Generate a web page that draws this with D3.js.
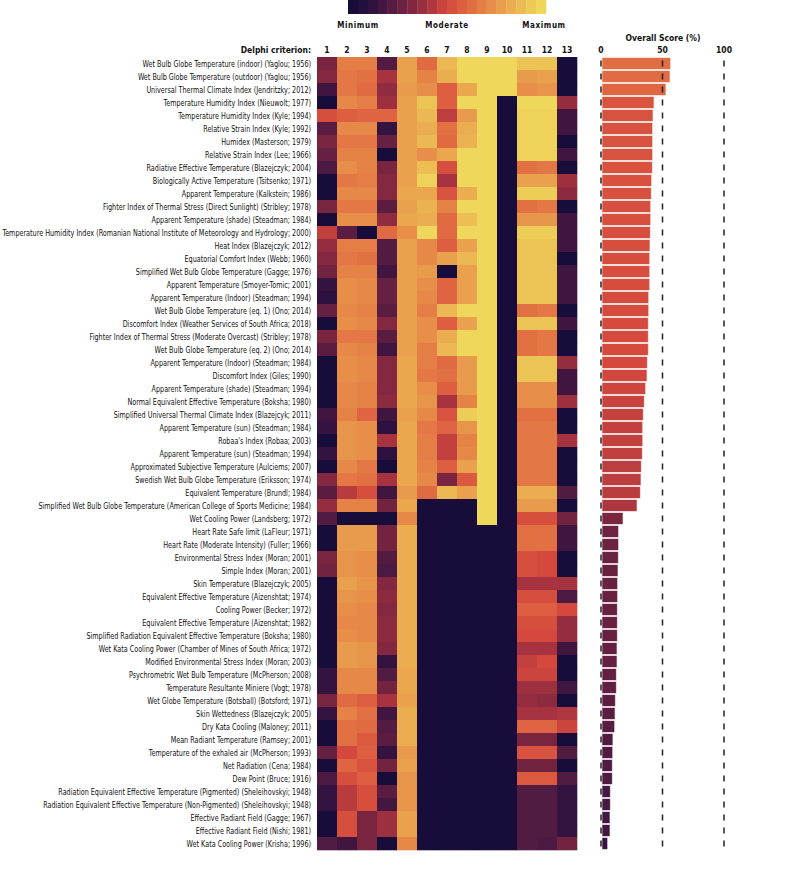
<!DOCTYPE html>
<html>
<head>
<meta charset="utf-8">
<script src="https://cdn.jsdelivr.net/npm/d3@7"></script>
<style>
  body { margin: 0; background: #fff; }
  text { font-family: "Liberation Sans Narrow", "DejaVu Sans Condensed", sans-serif; fill: #111; }
  .bold { font-weight: bold; }
</style>
</head>
<body>
<svg id="chart" width="800" height="880"></svg>
<script>
var criteria = [1,2,3,4,5,6,7,8,9,10,11,12,13];

var indices = [
  "Wet Bulb Globe Temperature (indoor) (Yaglou; 1956)",
  "Wet Bulb Globe Temperature (outdoor) (Yaglou; 1956)",
  "Universal Thermal Climate Index (Jendritzky; 2012)",
  "Temperature Humidity Index (Nieuwolt; 1977)",
  "Temperature Humidity Index (Kyle; 1994)",
  "Relative Strain Index (Kyle; 1992)",
  "Humidex (Masterson; 1979)",
  "Relative Strain Index (Lee; 1966)",
  "Radiative Effective Temperature (Blazejczyk; 2004)",
  "Biologically Active Temperature (Tsitsenko; 1971)",
  "Apparent Temperature (Kalkstein; 1986)",
  "Fighter Index of Thermal Stress (Direct Sunlight) (Stribley; 1978)",
  "Apparent Temperature (shade) (Steadman; 1984)",
  "Temperature Humidity Index (Romanian National Institute of Meteorology and Hydrology; 2000)",
  "Heat Index (Blazejczyk; 2012)",
  "Equatorial Comfort Index (Webb; 1960)",
  "Simplified Wet Bulb Globe Temperature (Gagge; 1976)",
  "Apparent Temperature (Smoyer-Tomic; 2001)",
  "Apparent Temperature (Indoor) (Steadman; 1994)",
  "Wet Bulb Globe Temperature (eq. 1) (Ono; 2014)",
  "Discomfort Index (Weather Services of South Africa; 2018)",
  "Fighter Index of Thermal Stress (Moderate Overcast) (Stribley; 1978)",
  "Wet Bulb Globe Temperature (eq. 2) (Ono; 2014)",
  "Apparent Temperature (Indoor) (Steadman; 1984)",
  "Discomfort Index (Giles; 1990)",
  "Apparent Temperature (shade) (Steadman; 1994)",
  "Normal Equivalent Effective Temperature (Boksha; 1980)",
  "Simplified Universal Thermal Climate Index (Blazejcyk; 2011)",
  "Apparent Temperature (sun) (Steadman; 1984)",
  "Robaa's Index (Robaa; 2003)",
  "Apparent Temperature (sun) (Steadman; 1994)",
  "Approximated Subjective Temperature (Aulciems; 2007)",
  "Swedish Wet Bulb Globe Temperature (Eriksson; 1974)",
  "Equivalent Temperature (Brundl; 1984)",
  "Simplified Wet Bulb Globe Temperature (American College of Sports Medicine; 1984)",
  "Wet Cooling Power (Landsberg; 1972)",
  "Heart Rate Safe limit (LaFleur; 1971)",
  "Heart Rate (Moderate Intensity) (Fuller; 1966)",
  "Environmental Stress Index (Moran; 2001)",
  "Simple Index (Moran; 2001)",
  "Skin Temperature (Blazejczyk; 2005)",
  "Equivalent Effective Temperature (Aizenshtat; 1974)",
  "Cooling Power (Becker; 1972)",
  "Equivalent Effective Temperature (Aizenshtat; 1982)",
  "Simplified Radiation Equivalent Effective Temperature (Boksha; 1980)",
  "Wet Kata Cooling Power (Chamber of Mines of South Africa; 1972)",
  "Modified Environmental Stress Index (Moran; 2003)",
  "Psychrometric Wet Bulb Temperature (McPherson; 2008)",
  "Temperature Resultante Miniere (Vogt; 1978)",
  "Wet Globe Temperature (Botsball) (Botsford; 1971)",
  "Skin Wettedness (Blazejczyk; 2005)",
  "Dry Kata Cooling (Maloney; 2011)",
  "Mean Radiant Temperature (Ramsey; 2001)",
  "Temperature of the exhaled air (McPherson; 1993)",
  "Net Radiation (Cena; 1984)",
  "Dew Point (Bruce; 1916)",
  "Radiation Equivalent Effective Temperature (Pigmented) (Sheleihovskyi; 1948)",
  "Radiation Equivalent Effective Temperature (Non-Pigmented) (Sheleihovskyi; 1948)",
  "Effective Radiant Field (Gagge; 1967)",
  "Effective Radiant Field (Nishi; 1981)",
  "Wet Kata Cooling Power (Krisha; 1996)"
];

// overall score (%) per index
var scores = [
  55.8, 55.3, 52.0, 42.3, 41.5, 41.2, 41.2, 41.2, 41.0, 40.4,
  40.1, 39.6, 39.6, 39.3, 39.0, 38.8, 38.8, 38.8, 38.0, 38.0,
  37.7, 37.7, 37.7, 36.9, 36.6, 35.5, 34.4, 33.6, 33.1, 33.1,
  32.8, 32.0, 31.7, 31.2, 28.5, 17.1, 13.5, 13.5, 13.3, 13.0,
  12.7, 12.7, 12.5, 12.5, 12.5, 12.2, 12.2, 11.7, 11.7, 10.9,
  10.6, 10.3, 8.9, 8.7, 8.4, 8.4, 6.8, 6.8, 6.5, 6.5, 4.6
];

// rating per criterion, 0 = minimum, 0.5 = moderate, 1 = maximum
var ratings = [
  [0.30,0.68,0.68,0.20,0.80,0.62,0.88,1,1,1,0.92,0.92,0],
  [0.32,0.66,0.64,0.40,0.80,0.70,0.84,1,1,1,0.78,0.80,0],
  [0.15,0.66,0.62,0.35,0.78,0.74,0.58,0.82,1,1,0.74,0.76,0],
  [0,0.72,0.68,0.38,0.80,0.92,0.58,1,1,0,1,1,0.36],
  [0.52,0.58,0.60,0.60,0.80,0.88,0.45,0.78,1,0,0.98,0.98,0.15],
  [0.22,0.72,0.72,0.12,0.80,0.84,0.64,0.84,1,0,0.98,0.98,0.15],
  [0.30,0.66,0.66,0.25,0.80,0.88,0.62,0.86,1,0,0.98,0.98,0],
  [0.25,0.70,0.70,0,0.80,0.74,0.82,1,1,0,0.98,0.98,0.15],
  [0.18,0.74,0.70,0.30,0.80,0.90,0.52,1,1,0,0.64,0.66,0],
  [0,0.66,0.68,0.32,0.80,0.98,0.40,1,1,0,0.80,0.80,0.38],
  [0,0.72,0.72,0.32,0.82,0.82,0.54,0.84,1,0,0.95,0.95,0.34],
  [0.30,0.66,0.66,0.22,0.80,0.86,0.70,1,1,0,0.64,0.66,0],
  [0,0.74,0.74,0.35,0.82,0.84,0.62,0.90,1,0,0.76,0.76,0.15],
  [0.46,0.22,0,0.62,0.74,1,0.62,1,1,0,0.96,0.96,0.15],
  [0.36,0.68,0.68,0.20,0.80,0.72,0.58,0.80,1,0,0.92,0.92,0.15],
  [0.32,0.66,0.64,0.20,0.80,0.72,0.80,0.88,1,0,0.92,0.92,0],
  [0.28,0.70,0.70,0.15,0.80,0.78,0,0.80,1,0,0.92,0.92,0.15],
  [0.12,0.74,0.72,0.25,0.80,0.74,0.60,0.80,1,0,0.92,0.92,0.15],
  [0.10,0.74,0.72,0.25,0.80,0.72,0.60,0.80,1,0,0.92,0.92,0.15],
  [0.25,0.72,0.70,0.22,0.80,0.68,0.88,1,1,0,0.64,0.66,0],
  [0,0.74,0.72,0.32,0.80,0.74,0.58,0.80,1,0,0.92,0.92,0.15],
  [0.30,0.66,0.66,0.22,0.80,0.74,0.84,1,1,0,0.64,0.66,0],
  [0.22,0.72,0.70,0.15,0.80,0.68,0.88,1,1,0,0.64,0.66,0],
  [0,0.74,0.72,0.32,0.82,0.68,0.62,0.78,1,0,0.92,0.92,0.36],
  [0,0.74,0.72,0.32,0.82,0.66,0.64,0.78,1,0,0.92,0.92,0.15],
  [0,0.72,0.70,0.32,0.82,0.74,0.58,0.78,1,0,0.74,0.74,0.15],
  [0,0.72,0.70,0.34,0.82,0.76,0.40,0.70,1,0,0.74,0.74,0.38],
  [0.15,0.70,0.60,0.15,0.80,0.72,0.54,0.96,1,0,0.64,0.64,0],
  [0.12,0.76,0.74,0.10,0.82,0.66,0.60,0.76,1,0,0.66,0.66,0],
  [0,0.76,0.74,0.40,0.82,0.68,0.46,0.70,1,0,0.66,0.66,0.40],
  [0.12,0.76,0.74,0.10,0.82,0.68,0.46,0.72,1,0,0.66,0.66,0],
  [0,0.72,0.66,0,0.82,0.70,0.58,0.80,1,0,0.66,0.66,0],
  [0.32,0.66,0.64,0.40,0.82,0.72,0.30,0.56,1,0,0.66,0.66,0],
  [0.22,0.44,0.52,0.15,0.78,0.62,0.88,0.80,1,0,0.84,0.84,0.20],
  [0.36,0.70,0.70,0.28,0.82,0,0,0,1,0,0.78,0.78,0],
  [0.20,0,0,0,0.72,0,0,0,1,0,0.52,0.52,0.28],
  [0,0.78,0.78,0.28,0.84,0,0,0,0,0,0.64,0.64,0.15],
  [0,0.78,0.78,0.28,0.84,0,0,0,0,0,0.64,0.64,0.15],
  [0.30,0.76,0.74,0.20,0.84,0,0,0,0,0,0.52,0.50,0],
  [0.28,0.76,0.74,0.18,0.84,0,0,0,0,0,0.52,0.50,0],
  [0,0.80,0.76,0.32,0.84,0,0,0,0,0,0.40,0.40,0.40],
  [0,0.76,0.74,0.34,0.84,0,0,0,0,0,0.52,0.52,0.18],
  [0,0.74,0.72,0.32,0.84,0,0,0,0,0,0.58,0.58,0.50],
  [0,0.72,0.72,0.34,0.84,0,0,0,0,0,0.52,0.52,0.36],
  [0,0.74,0.72,0.34,0.84,0,0,0,0,0,0.50,0.50,0.36],
  [0,0.78,0.76,0.32,0.84,0,0,0,0,0,0.40,0.40,0.15],
  [0,0.78,0.76,0.12,0.84,0,0,0,0,0,0.46,0.50,0],
  [0.12,0.72,0.72,0.20,0.82,0,0,0,0,0,0.48,0.48,0],
  [0.12,0.72,0.72,0.28,0.82,0,0,0,0,0,0.38,0.38,0.15],
  [0.30,0.62,0.58,0.40,0.80,0,0,0,0,0,0.36,0.34,0],
  [0.12,0.70,0.64,0.15,0.84,0,0,0,0,0,0.40,0.40,0.42],
  [0,0.64,0.62,0.20,0.84,0,0,0,0,0,0.60,0.60,0.48],
  [0,0.64,0.56,0.22,0.84,0,0,0,0,0,0.30,0.30,0],
  [0.25,0.50,0.58,0.12,0.78,0,0,0,0,0,0.54,0.54,0.20],
  [0,0.60,0.54,0.28,0.80,0,0,0,0,0,0.28,0.28,0],
  [0.18,0.52,0.58,0,0.76,0,0,0,0,0,0.56,0.56,0.20],
  [0.12,0.44,0.52,0.22,0.76,0,0,0,0,0,0.20,0.20,0.12],
  [0.12,0.44,0.52,0.16,0.76,0,0,0,0,0,0.20,0.20,0.12],
  [0,0.52,0.30,0.38,0.80,0,0,0,0,0,0.20,0.20,0.12],
  [0,0.52,0.30,0.38,0.80,0,0,0,0,0,0.20,0.20,0.12],
  [0.20,0.15,0.30,0,0.72,0,0,0,0,0,0.20,0.18,0.28]
];

var scoreTicks = [0, 50, 100];
var legendLabels = ["Minimum", "Moderate", "Maximum"];

var stops = ["#170c3a","#2e1141","#521b41","#7a2540","#a6333f","#d4483d",
             "#df6441","#e58347","#e9a14d","#ecbe54","#eed75a"];

var color = d3.scaleLinear()
  .domain(d3.range(stops.length).map(function(i){ return i / (stops.length - 1) }))
  .range(stops)
  .interpolate(d3.interpolateRgb);

// bar colour follows the score on the same ramp
var barT = d3.scaleLinear().domain([0, 13, 40, 56]).range([0.06, 0.26, 0.53, 0.63]);

var svg = d3.select("#chart");

var x = d3.scaleBand().domain(criteria).range([317, 577]);
var y = d3.scaleBand().domain(d3.range(indices.length)).range([57, 57 + indices.length * 13]);
var sx = d3.scaleLinear().domain([0, 100]).range([601, 724]);

// legend
var nSteps = 20;
var lx = d3.scaleLinear().domain([0, nSteps]).range([348, 546]);
svg.append("g").selectAll("rect")
   .data(d3.range(nSteps))
   .enter()
   .append("rect")
   .attr("x", function(d){ return lx(d) })
   .attr("y", 0)
   .attr("width", lx(1) - lx(0) + 0.3)
   .attr("height", 14)
   .style("fill", function(d){ return color(d / (nSteps - 1)) });

svg.append("g").selectAll("text")
   .data(legendLabels)
   .enter()
   .append("text")
   .attr("class", "bold")
   .attr("x", function(d,i){ return lx(i * nSteps / 2) + (i == 0 ? 10 : i == 2 ? -2 : 0) })
   .attr("y", 28)
   .attr("text-anchor", "middle")
   .style("font-size", "8px")
   .style("letter-spacing", "0.6px")
   .text(function(d){ return d });

// header
svg.append("text")
   .attr("class", "bold")
   .attr("x", 311).attr("y", 53)
   .attr("text-anchor", "end")
   .style("font-size", "8.5px")
   .text("Delphi criterion:");

svg.append("g").selectAll("text")
   .data(criteria)
   .enter()
   .append("text")
   .attr("class", "bold")
   .attr("x", function(d){ return x(d) + x.bandwidth() / 2 })
   .attr("y", 53)
   .attr("text-anchor", "middle")
   .style("font-size", "8.5px")
   .text(function(d){ return d });

// row labels, squeezed sideways so the longest one fits left of the grid
var labels = svg.append("g").selectAll("text")
   .data(indices)
   .enter()
   .append("text")
   .attr("dy", ".35em")
   .attr("text-anchor", "end")
   .style("font-size", "9px")
   .text(function(d){ return d });

var longest = d3.max(labels.nodes(), function(n){ return n.getComputedTextLength() });
var squeeze = Math.min(1, 309 / longest);
labels.attr("transform", function(d,i){
   return "translate(311," + (y(i) + y.bandwidth() / 2) + ") scale(" + squeeze + ",1)";
});

// heatmap cells
var rows = svg.append("g").selectAll("g")
   .data(ratings)
   .enter()
   .append("g")
   .attr("transform", function(d,i){ return "translate(0," + y(i) + ")" });

rows.selectAll("rect")
   .data(function(d){ return d })
   .enter()
   .append("rect")
   .attr("x", function(d,j){ return x(criteria[j]) })
   .attr("width", x.bandwidth() + 0.3)
   .attr("height", y.bandwidth() + 0.3)
   .style("fill", function(d){ return color(d) });

// overall score bars
svg.append("text")
   .attr("class", "bold")
   .attr("x", 663).attr("y", 41)
   .attr("text-anchor", "middle")
   .style("font-size", "8.5px")
   .text("Overall Score (%)");

svg.append("g").selectAll("text")
   .data(scoreTicks)
   .enter()
   .append("text")
   .attr("class", "bold")
   .attr("x", function(d){ return sx(d) })
   .attr("y", 53)
   .attr("text-anchor", "middle")
   .style("font-size", "8.5px")
   .text(function(d){ return d });

svg.append("g").selectAll("rect")
   .data(scores)
   .enter()
   .append("rect")
   .attr("x", sx(0) + 1)
   .attr("y", function(d,i){ return y(i) + 0.5 })
   .attr("width", function(d){ return sx(d) - sx(0) })
   .attr("height", y.bandwidth() - 1)
   .style("fill", function(d){ return color(barT(d)) })
   .style("stroke", "#fff")
   .style("stroke-opacity", 0.6)
   .style("stroke-width", 1);

svg.append("g").selectAll("line")
   .data(scoreTicks)
   .enter()
   .append("line")
   .attr("x1", function(d){ return sx(d) })
   .attr("x2", function(d){ return sx(d) })
   .attr("y1", y(0) + 3.5)
   .attr("y2", y(indices.length - 1) + y.bandwidth())
   .style("stroke", "#222")
   .style("stroke-width", 1.5)
   .style("stroke-dasharray", "6,7");
</script>
</body>
</html>
